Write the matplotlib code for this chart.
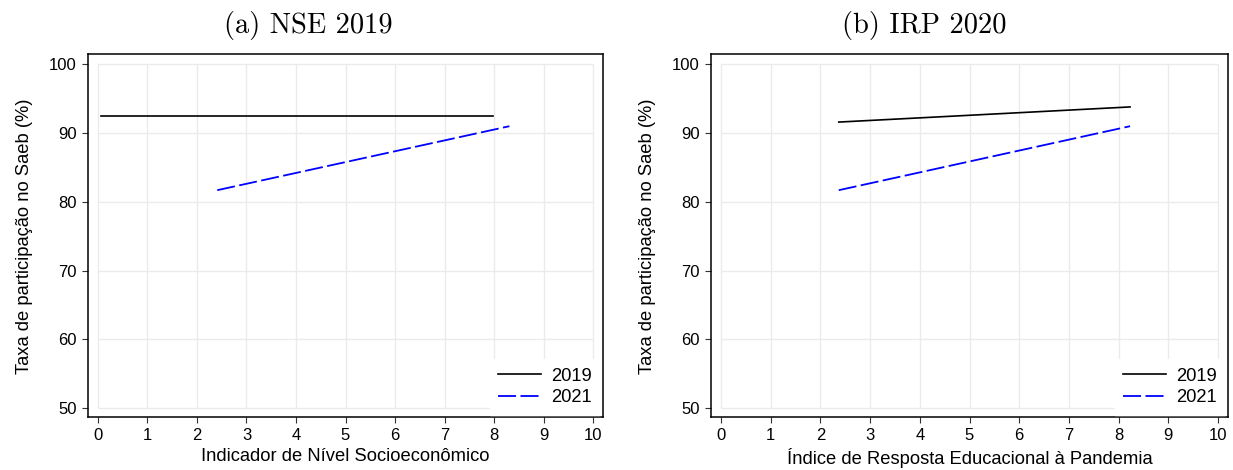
import numpy as np
import matplotlib
matplotlib.use("Agg")
import matplotlib.pyplot as plt

plt.rcParams["font.family"] = ["Liberation Sans", "DejaVu Sans"]
plt.rcParams["lines.scale_dashes"] = False

# values
panel_titles = ["(a) NSE 2019", "(b) IRP 2020"]
x_labels = ["Indicador de Nível Socioeconômico",
            "Índice de Resposta Educacional à Pandemia"]
y_label = "Taxa de participação no Saeb (%)"
series_names = ["2019", "2021"]

nse_x_2019 = [0.07, 7.97]
nse_y_2019 = [92.44, 92.44]
nse_x_2021 = [2.41, 8.31]
nse_y_2021 = [81.7, 91.0]

irp_x_2019 = [2.37, 8.23]
irp_y_2019 = [91.6, 93.8]
irp_x_2021 = [2.37, 8.23]
irp_y_2021 = [81.7, 91.0]

x_ticks = list(range(0, 11))
y_ticks = [50, 60, 70, 80, 90, 100]

panels = [
    (nse_x_2019, nse_y_2019, nse_x_2021, nse_y_2021),
    (irp_x_2019, irp_y_2019, irp_x_2021, irp_y_2021),
]

fig = plt.figure(figsize=(12.33, 4.70), dpi=100)
W, H = 1233, 470
axes_px = [(88, 54.3, 515, 363), (711, 54.3, 517, 363)]

for i, (x1, y1, x2, y2) in enumerate(panels):
    left, top, w, h = axes_px[i]
    ax = fig.add_axes([left / W, 1 - (top + h) / H, w / W, h / H])
    ax.set_xlim(-0.2, 10.2)
    ax.set_ylim(48.69, 101.45)

    # light grid limited to the data range, like Stata
    ax.hlines(y_ticks, x_ticks[0], x_ticks[-1], color="#ebebeb", lw=1.0, zorder=0)
    ax.vlines(x_ticks, y_ticks[0], y_ticks[-1], color="#ebebeb", lw=1.0, zorder=0)

    ax.plot(x1, y1, color="black", lw=1.2, label=series_names[0])
    ax.plot(x2, y2, color="#0000ff", lw=1.3, dashes=(13, 3.2),
            label=series_names[1])

    ax.set_xticks(x_ticks)
    ax.set_yticks(y_ticks)
    ax.tick_params(labelsize=12, length=4.5, width=0.8, pad=3.5, color="#333333")
    for s in ax.spines.values():
        s.set_linewidth(1.1)
        s.set_color("black")

    ax.set_xlabel(x_labels[i], fontsize=13.2, labelpad=3)
    ax.set_ylabel(y_label, fontsize=13.2)
    ax.yaxis.set_label_coords(-0.107, 0.5)

    leg = ax.legend(loc="lower right", bbox_to_anchor=(1.0, 0.0), fontsize=13.2,
                    frameon=True, fancybox=False, handlelength=2.35,
                    handletextpad=0.55, labelspacing=0.25, borderpad=0.45,
                    borderaxespad=0.15)
    leg.get_frame().set_edgecolor("white")
    leg.get_frame().set_facecolor("white")
    leg.get_frame().set_alpha(1.0)

    fig.text(0.25 + 0.5 * i, 1 - 33 / H, panel_titles[i], ha="center",
             va="baseline", fontsize=20.5, family="cmr10")

fig.savefig("out.png", dpi=100)
